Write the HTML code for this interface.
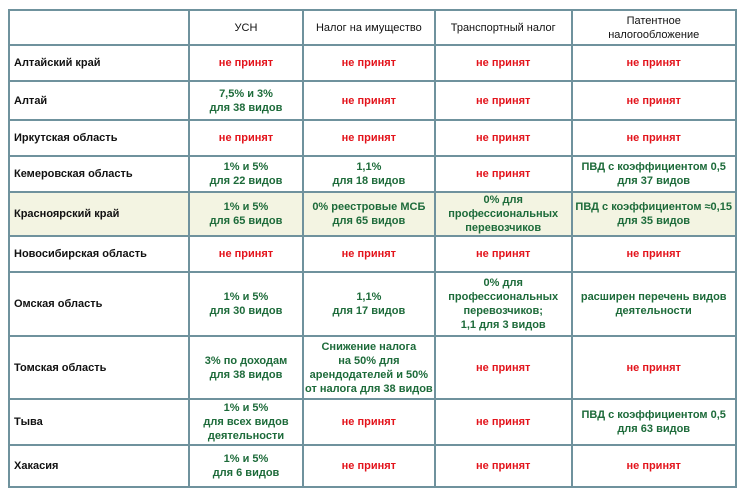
<!DOCTYPE html>
<html><head><meta charset="utf-8"><style>
body{margin:0;background:#fff;width:741px;height:498px;overflow:hidden;font-family:"Liberation Sans",sans-serif;}
table{position:absolute;left:8px;top:9px;border-collapse:collapse;table-layout:fixed;border:2px solid #5e8592;}
td{border:2px solid #6f929d;font-size:11px;text-align:center;padding:0 1px;line-height:14px;font-weight:bold;color:#1d6b3a;overflow:hidden;white-space:nowrap;}
td.l{text-align:left;color:#111;padding-left:4px;font-weight:bold;}
tr.h td{color:#111;font-weight:normal;}
.r{color:#e3141c;}
tr.y td{background:#f3f4e2;}
</style></head><body>
<table>
<colgroup><col style="width:180px"><col style="width:114px"><col style="width:129px"><col style="width:137px"><col style="width:164px"></colgroup>
<tr class="h" style="height:35px"><td></td><td>УСН</td><td>Налог на имущество</td><td>Транспортный налог</td><td>Патентное<br>налогообложение</td></tr>
<tr style="height:36px"><td class="l">Алтайский край</td><td class="r">не принят</td><td class="r">не принят</td><td class="r">не принят</td><td class="r">не принят</td></tr>
<tr style="height:39px"><td class="l">Алтай</td><td>7,5% и 3%<br>для 38 видов</td><td class="r">не принят</td><td class="r">не принят</td><td class="r">не принят</td></tr>
<tr style="height:36px"><td class="l">Иркутская область</td><td class="r">не принят</td><td class="r">не принят</td><td class="r">не принят</td><td class="r">не принят</td></tr>
<tr style="height:36px"><td class="l">Кемеровская область</td><td>1% и 5%<br>для 22 видов</td><td>1,1%<br>для 18 видов</td><td class="r">не принят</td><td>ПВД с коэффициентом 0,5<br>для 37 видов</td></tr>
<tr class="y" style="height:44px"><td class="l">Красноярский край</td><td>1% и 5%<br>для 65 видов</td><td>0% реестровые МСБ<br>для 65 видов</td><td>0% для<br>профессиональных<br>перевозчиков</td><td>ПВД с коэффициентом ≈0,15<br>для 35 видов</td></tr>
<tr style="height:36px"><td class="l">Новосибирская область</td><td class="r">не принят</td><td class="r">не принят</td><td class="r">не принят</td><td class="r">не принят</td></tr>
<tr style="height:64px"><td class="l">Омская область</td><td>1% и 5%<br>для 30 видов</td><td>1,1%<br>для 17 видов</td><td>0% для<br>профессиональных<br>перевозчиков;<br>1,1 для 3 видов</td><td>расширен перечень видов<br>деятельности</td></tr>
<tr style="height:63px"><td class="l">Томская область</td><td>3% по доходам<br>для 38 видов</td><td>Снижение налога<br>на 50% для<br>арендодателей и 50%<br>от налога для 38 видов</td><td class="r">не принят</td><td class="r">не принят</td></tr>
<tr style="height:46px"><td class="l">Тыва</td><td>1% и 5%<br>для всех видов<br>деятельности</td><td class="r">не принят</td><td class="r">не принят</td><td>ПВД с коэффициентом 0,5<br>для 63 видов</td></tr>
<tr style="height:42px"><td class="l">Хакасия</td><td>1% и 5%<br>для 6 видов</td><td class="r">не принят</td><td class="r">не принят</td><td class="r">не принят</td></tr>
</table>
</body></html>
